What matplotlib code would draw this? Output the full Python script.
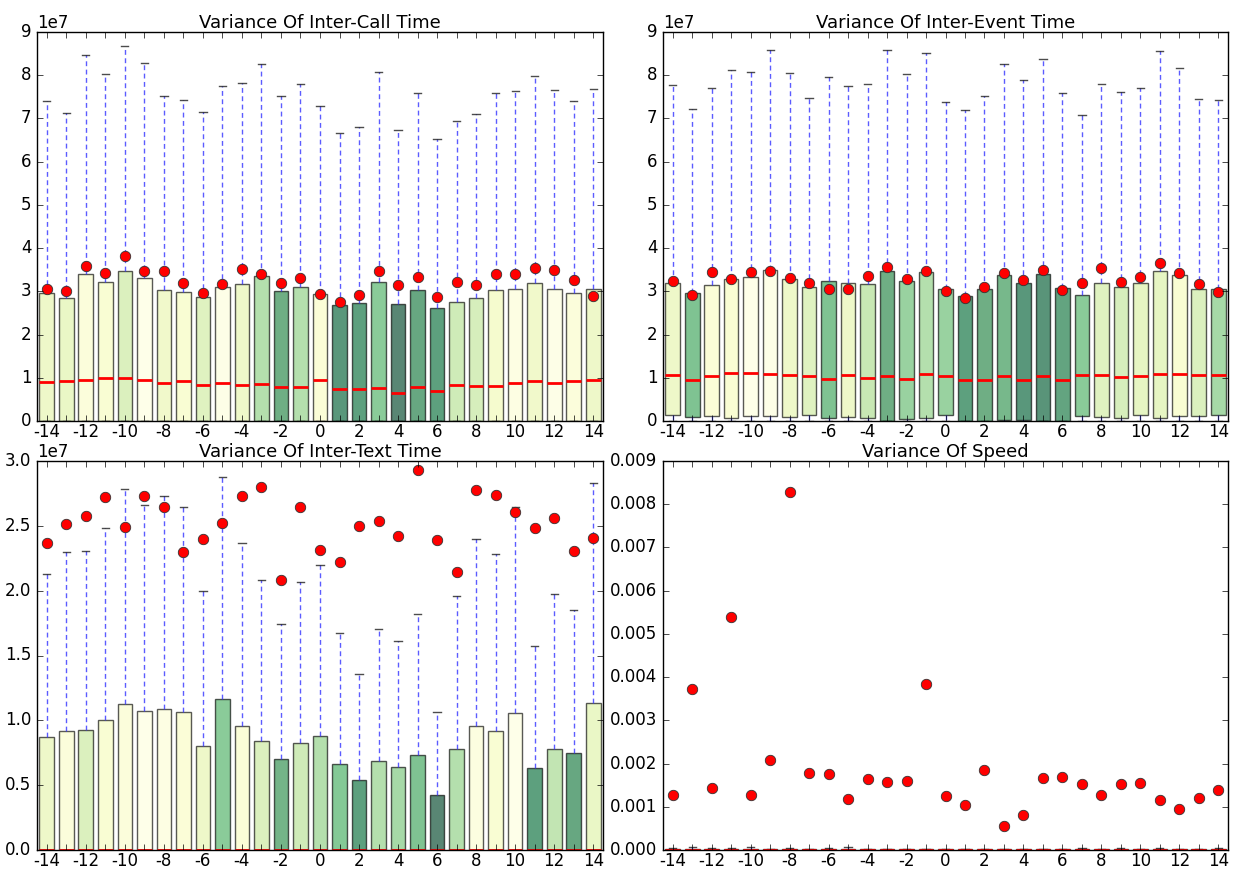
import matplotlib
matplotlib.use("Agg")
import matplotlib.pyplot as plt
import numpy as np

plt.style.use('classic')
plt.rcParams['axes.unicode_minus'] = False

hours = list(range(-14, 15))

# inter-call variance, in units of 1e7
call_whishi = [7.40, 7.13, 8.46, 8.03, 8.67, 8.28, 7.52, 7.42, 7.15, 7.76, 7.81, 8.26, 7.52, 7.79, 7.29,
               6.66, 6.81, 8.08, 6.74, 7.58, 6.53, 6.94, 7.11, 7.58, 7.64, 7.99, 7.66, 7.40, 7.67]
call_q3 = [2.96, 2.85, 3.39, 3.21, 3.46, 3.30, 3.02, 2.98, 2.86, 3.09, 3.16, 3.35, 3.01, 3.11, 2.93,
           2.68, 2.74, 3.22, 2.71, 3.03, 2.61, 2.76, 2.85, 3.02, 3.06, 3.19, 3.06, 2.96, 3.06]
call_q1 = [0.0] * 29
call_med = [0.90, 0.93, 0.94, 0.99, 1.00, 0.94, 0.89, 0.92, 0.83, 0.87, 0.83, 0.86, 0.79, 0.79, 0.95,
            0.75, 0.75, 0.77, 0.64, 0.78, 0.69, 0.84, 0.82, 0.82, 0.88, 0.93, 0.88, 0.93, 0.94]
call_mean = [3.05, 3.00, 3.59, 3.43, 3.81, 3.48, 3.46, 3.20, 2.95, 3.16, 3.52, 3.40, 3.19, 3.32, 2.94,
             2.76, 2.92, 3.46, 3.14, 3.33, 2.88, 3.21, 3.15, 3.39, 3.40, 3.53, 3.50, 3.27, 2.90]
call_shade = [0.20, 0.22, 0.08, 0.12, 0.30, 0.02, 0.18, 0.12, 0.28, 0.03, 0.20, 0.45, 0.75, 0.45, 0.10,
              0.90, 0.85, 0.60, 1.00, 0.80, 0.85, 0.35, 0.32, 0.15, 0.05, 0.18, 0.03, 0.08, 0.20]

# inter-event variance, in units of 1e7
event_whishi = [7.77, 7.22, 7.70, 8.11, 8.08, 8.59, 8.05, 7.48, 7.96, 7.74, 7.80, 8.58, 8.03, 8.52, 7.37,
                7.20, 7.52, 8.25, 7.89, 8.38, 7.58, 7.07, 7.79, 7.61, 7.70, 8.55, 8.16, 7.46, 7.43]
event_q3 = [3.19, 2.96, 3.15, 3.28, 3.33, 3.50, 3.29, 3.09, 3.23, 3.19, 3.16, 3.46, 3.23, 3.44, 3.05,
            2.90, 3.06, 3.37, 3.19, 3.39, 3.07, 2.91, 3.19, 3.09, 3.19, 3.46, 3.37, 3.05, 3.06]
event_q1 = [0.13, 0.09, 0.11, 0.06, 0.12, 0.11, 0.09, 0.15, 0.08, 0.09, 0.06, 0.00, 0.04, 0.06, 0.13,
            0.00, 0.00, 0.02, 0.02, 0.00, 0.00, 0.11, 0.10, 0.06, 0.15, 0.06, 0.12, 0.11, 0.13]
event_med = [1.06, 0.95, 1.03, 1.10, 1.12, 1.09, 1.07, 1.05, 0.98, 1.07, 1.00, 1.04, 0.97, 1.08, 1.03,
             0.94, 0.95, 1.03, 0.95, 1.03, 0.94, 1.06, 1.06, 1.01, 1.03, 1.09, 1.08, 1.06, 1.06]
event_mean = [3.23, 2.92, 3.44, 3.28, 3.44, 3.47, 3.30, 3.19, 3.05, 3.06, 3.36, 3.56, 3.29, 3.47, 3.00,
              2.85, 3.11, 3.43, 3.27, 3.50, 3.03, 3.20, 3.55, 3.22, 3.33, 3.66, 3.43, 3.17, 2.99]
event_shade = [0.20, 0.65, 0.10, 0.12, 0.02, 0.03, 0.20, 0.28, 0.65, 0.20, 0.38, 0.75, 0.55, 0.45, 0.55,
               0.85, 0.75, 0.70, 0.90, 0.92, 0.82, 0.60, 0.28, 0.32, 0.25, 0.25, 0.12, 0.30, 0.50]

# inter-text variance, in units of 1e7
text_whishi = [2.131, 2.296, 2.308, 2.486, 2.782, 2.663, 2.727, 2.645, 2.000, 2.874, 2.365, 2.080, 1.745,
               2.069, 2.196, 1.671, 1.355, 1.702, 1.614, 1.820, 1.067, 1.959, 2.398, 2.280, 2.643, 1.576,
               1.972, 1.851, 2.833]
text_q3 = [0.868, 0.917, 0.922, 1.000, 1.127, 1.073, 1.091, 1.065, 0.801, 1.163, 0.953, 0.839, 0.705,
           0.829, 0.876, 0.666, 0.539, 0.684, 0.642, 0.733, 0.427, 0.782, 0.956, 0.915, 1.057, 0.630,
           0.782, 0.746, 1.135]
text_q1 = [0.0] * 29
text_med = [0.002] * 29
text_mean = [2.370, 2.514, 2.576, 2.720, 2.493, 2.730, 2.648, 2.301, 2.398, 2.519, 2.733, 2.799, 2.082,
             2.643, 2.316, 2.219, 2.499, 2.537, 2.422, 2.931, 2.388, 2.144, 2.774, 2.735, 2.609, 2.486,
             2.558, 2.306, 2.404]
text_shade = [0.20, 0.08, 0.30, 0.12, 0.08, 0.02, 0.05, 0.10, 0.20, 0.60, 0.10, 0.30, 0.72, 0.35, 0.45,
              0.62, 0.85, 0.45, 0.50, 0.65, 1.00, 0.45, 0.06, 0.12, 0.02, 0.85, 0.40, 0.80, 0.22]

# speed variance, in units of 1e-3
speed_whishi = [0.04, 0.06, 0.04, 0.05, 0.06, 0.03, 0.04, 0.03, 0.04, 0.06, 0.03, 0.03, 0.03, 0.02, 0.03,
                0.02, 0.02, 0.02, 0.02, 0.02, 0.02, 0.04, 0.03, 0.04, 0.03, 0.04, 0.03, 0.03, 0.04]
speed_q3 = [0.012] * 29
speed_q1 = [0.0] * 29
speed_med = [0.003] * 29
speed_mean = [1.27, 3.73, 1.43, 5.39, 1.27, 2.08, 8.29, 1.78, 1.76, 1.18, 1.64, 1.57, 1.60, 3.84, 1.25,
              1.04, 1.85, 0.56, 0.81, 1.67, 1.69, 1.53, 1.27, 1.53, 1.55, 1.16, 0.95, 1.20, 1.39]
speed_shade = [0.3] * 29


def drawBoxes(ax, title, scale, q1, med, q3, whishi, mean, shade, ymax, ystep):
    stats = []
    for i in range(len(hours)):
        stats.append(dict(q1=q1[i] * scale, med=med[i] * scale, q3=q3[i] * scale,
                          whislo=0.0, whishi=whishi[i] * scale, mean=mean[i] * scale, fliers=[]))
    res = ax.bxp(stats, positions=hours, widths=0.75, patch_artist=True, showmeans=True,
                 showfliers=False, manage_ticks=False,
                 whiskerprops=dict(color='#3333ff', linestyle=(0, (3.5, 2.5)), linewidth=1, alpha=0.8),
                 capprops=dict(color='k', linewidth=1, alpha=0.7),
                 medianprops=dict(color='red', linewidth=2),
                 meanprops=dict(marker='o', markerfacecolor='red', markeredgecolor='#333333',
                                markeredgewidth=0.6, markersize=7.5))
    for patch, s in zip(res['boxes'], shade):
        patch.set_facecolor(plt.cm.YlGn(s))
        patch.set_edgecolor('k')
        patch.set_linewidth(1)
        patch.set_alpha(0.65)

    ax.set_xlim(-14.5, 14.5)
    ax.set_xticks(hours)
    ax.set_xticklabels([str(h) if h % 2 == 0 else '' for h in hours])
    ax.set_ylim(0, ymax * scale)
    ax.set_yticks(np.arange(0, ymax + ystep / 2, ystep) * scale)
    ax.set_title(title, fontsize=13, pad=3)
    ax.tick_params(labelsize=12)
    ax.tick_params(axis='x', pad=1.5)


fig = plt.figure(figsize=(12.33, 8.69), dpi=100, facecolor='white')
W, H = 1233.0, 869.0
ax1 = fig.add_axes([37 / W, 1 - 421 / H, 566 / W, 389 / H])
ax2 = fig.add_axes([663 / W, 1 - 421 / H, 565 / W, 389 / H])
ax3 = fig.add_axes([37 / W, 1 - 850 / H, 566 / W, 389 / H])
ax4 = fig.add_axes([663 / W, 1 - 850 / H, 565 / W, 389 / H])

drawBoxes(ax1, 'Variance Of Inter-Call Time', 1e7, call_q1, call_med, call_q3, call_whishi,
          call_mean, call_shade, 9, 1)
drawBoxes(ax2, 'Variance Of Inter-Event Time', 1e7, event_q1, event_med, event_q3, event_whishi,
          event_mean, event_shade, 9, 1)
drawBoxes(ax3, 'Variance Of Inter-Text Time', 1e7, text_q1, text_med, text_q3, text_whishi,
          text_mean, text_shade, 3.0, 0.5)
drawBoxes(ax4, 'Variance Of Speed', 1e-3, speed_q1, speed_med, speed_q3, speed_whishi,
          speed_mean, speed_shade, 9, 1)

ax3.yaxis.set_major_formatter(matplotlib.ticker.ScalarFormatter())
ax3.ticklabel_format(axis='y', style='sci', scilimits=(0, 0))
ax4.yaxis.set_major_formatter(matplotlib.ticker.FormatStrFormatter('%.3f'))

fig.savefig('out.png', dpi=100, facecolor='white')
